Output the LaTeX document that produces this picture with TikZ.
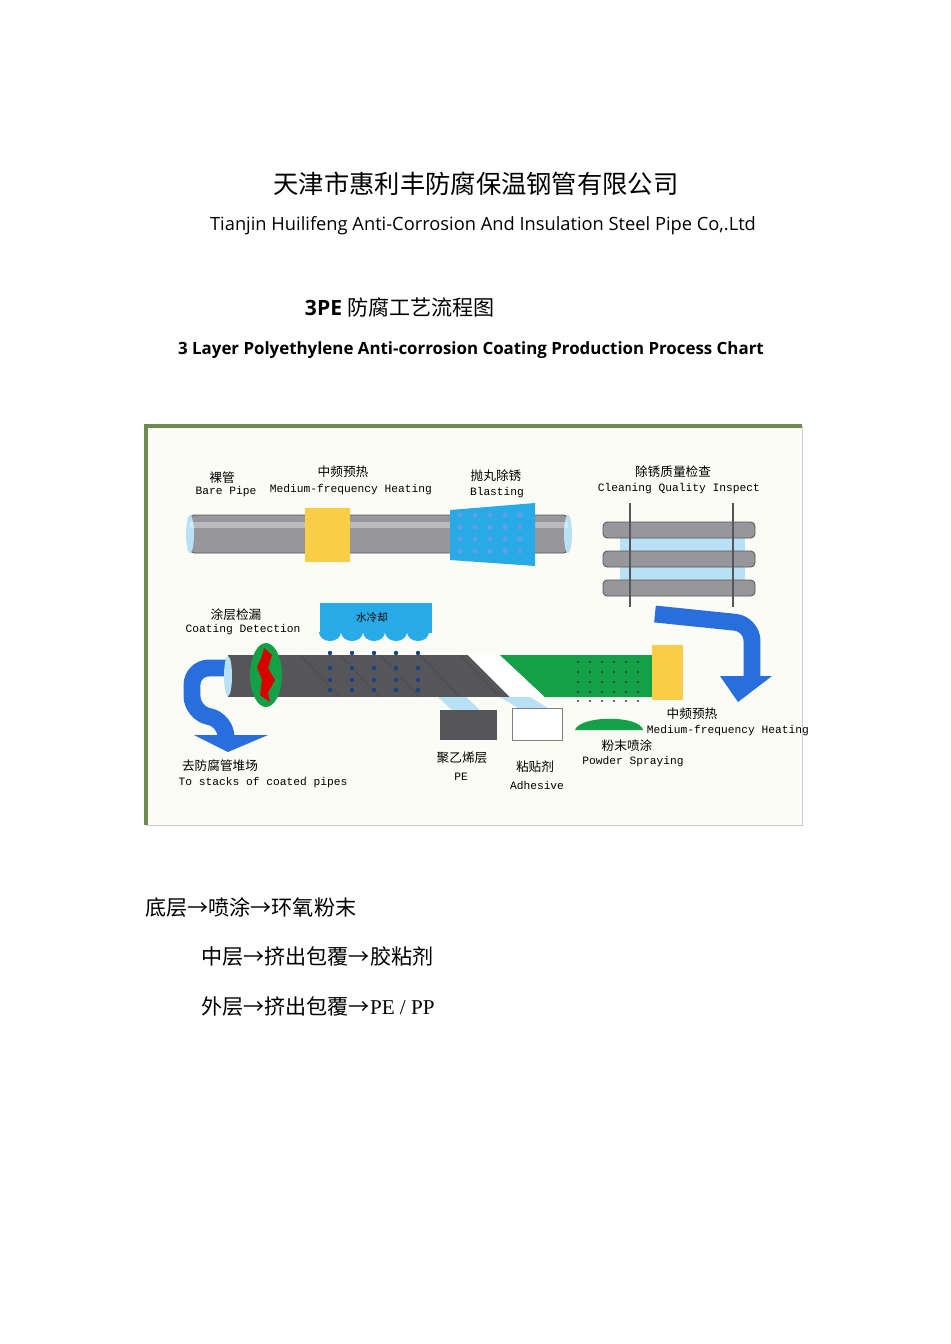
\documentclass[tikz,border=0pt]{standalone}
\usepackage{fontspec}
\setmainfont{Liberation Serif}
\newfontfamily\cjk{Noto Sans CJK SC}
\newfontfamily\sans{Open Sans}
\newfontfamily\mono{Liberation Mono}
\definecolor{frame}{RGB}{110,140,80}
\definecolor{cream}{RGB}{252,252,246}
\definecolor{pipegray}{RGB}{150,150,155}
\definecolor{darkpipe}{RGB}{85,85,90}
\definecolor{yel}{RGB}{250,205,70}
\definecolor{arrowblue}{RGB}{40,110,220}
\definecolor{sky}{RGB}{40,170,230}
\definecolor{pale}{RGB}{185,225,245}
\definecolor{grn}{RGB}{20,160,70}
\tikzset{
  cn/.style={font=\cjk\fontsize{9}{10}\selectfont, inner sep=0pt},
  en/.style={font=\mono\fontsize{8}{9}\selectfont, inner sep=0pt},
  pipe/.style={fill=pipegray, draw=darkpipe, line width=0.6pt, rounded corners=3pt},
  bline/.style={font=\cjk\fontsize{15}{16}\selectfont, anchor=west, inner sep=0pt}
}
\begin{document}
\begin{tikzpicture}[x=0.025cm, y=-0.025cm]
\useasboundingbox (0,0) rectangle (950,1344);
% titles
\node (title) at (476,184) [font=\cjk\fontsize{18}{19}\selectfont] {天津市惠利丰防腐保温钢管有限公司};
\node (subtitle) at (483,226) [font=\sans\fontsize{13}{14}\selectfont] {Tianjin Huilifeng Anti-Corrosion And Insulation Steel Pipe Co,.Ltd};
\node (chart) at (300,307) [anchor=west, font=\fontsize{15}{16}\selectfont] {{\sans\bfseries 3PE} {\cjk 防腐工艺流程图}};
\node (charten) at (471,350) [font=\sans\bfseries\fontsize{12}{13}\selectfont] {3 Layer Polyethylene Anti-corrosion Coating Production Process Chart};
% frame
\fill[cream] (145,425) rectangle (802,825);
\draw[frame, line width=2.2pt] (146,825) -- (146,426) -- (802,426);
\draw[gray!40] (802,426) -- (802,825) -- (146,825);
% top pipe
\fill[pipe] (190,515) rectangle (568,553);
\fill[pale] (190,534) ellipse (4 and 19);
\fill[pale] (568,534) ellipse (4 and 19);
\fill[white, opacity=0.35] (190,522) rectangle (568,528);
\fill[yel] (305,508) rectangle (350,562);
\fill[sky] (450,510) -- (535,503) -- (535,566) -- (450,560) -- cycle;
\foreach \i in {460,475,...,530}
  \foreach \j in {515,527,...,557}
    \fill[arrowblue!70] (\i,\j) circle (2.5);
\node[cn] (barecn) at (222,478) {裸管};
\node[en] (bareen) at (226,492) {Bare Pipe};
\node[cn] (heatcn) at (343,472) {中频预热};
\node[en] (heaten) at (351,490) {Medium-frequency Heating};
\node[cn] (blastcn) at (496,476) {抛丸除锈};
\node[en] (blasten) at (497,493) {Blasting};
\node[cn] (inspcn) at (673,472) {除锈质量检查};
\node[en] (inspen) at (679,489) {Cleaning Quality Inspect};
% inspection rack
\fill[pale] (620,537) rectangle (745,595);
\foreach \y in {522,551,580}
  \draw[pipe] (603,\y) rectangle (755,\y+16);
\draw[darkpipe, line width=1pt] (630,503) -- (630,607) (733,503) -- (733,607);
% blue turn arrows
\draw[arrowblue, line width=12pt, rounded corners=12pt] (655,614) -- (752,624) -- (752,676);
\fill[arrowblue] (720,676) -- (772,676) -- (738,702) -- cycle;
\draw[arrowblue, line width=12pt, rounded corners=12pt] (228,668) -- (192,668) -- (192,713) -- (226,720) -- (226,735);
\fill[arrowblue] (194,735) -- (268,735) -- (228,752) -- cycle;
% water cooling
\fill[sky] (320,603) rectangle (432,633);
\foreach \x in {330,352,374,396,418}
  \fill[sky] (\x-11,632) arc (180:0:11 and 9) -- cycle;
\node[cn, font=\cjk\fontsize{7.5}{8}\selectfont] (watercn) at (372,617) {水冷却};
% bottom pipe
\fill[darkpipe] (228,655) rectangle (655,697);
\foreach \x in {300,340,...,460}
  \draw[black!70] (\x,655) -- (\x+40,697);
\fill[white] (468,655) -- (500,655) -- (545,697) -- (510,697) -- cycle;
\fill[grn] (500,655) -- (655,655) -- (655,697) -- (545,697) -- cycle;
\fill[pale] (228,676) ellipse (4 and 20);
\foreach \x in {330,352,374,396,418}
  \foreach \y in {653,668,680,690}
    \fill[arrowblue!60!black] (\x,\y) circle (2.2);
\foreach \x in {578,590,...,640}
  \foreach \y in {662,672,682,692,701}
    \fill[black!80] (\x,\y) circle (1.2);
\fill[yel] (652,645) rectangle (683,700);
% coating detection ring
\fill[grn] (266,675) ellipse (16 and 32);
\fill[red!85!black] (264,648) -- (272,655) -- (268,668) -- (275,680) -- (268,693) -- (270,702) -- (260,695) -- (262,680) -- (257,667) -- (262,656) -- cycle;
% layer feeds
\fill[pale] (438,697) -- (466,697) -- (480,710) -- (452,710) -- cycle;
\fill[pale] (500,697) -- (530,697) -- (548,708) -- (518,708) -- cycle;
\fill[darkpipe] (440,710) rectangle (497,740);
\draw[gray, fill=white] (512,708) rectangle (562,740);
\fill[grn] (575,730) .. controls (580,715) and (640,715) .. (643,730) -- cycle;
% labels
\node[cn] (detcn) at (236,615) {涂层检漏};
\node[en] (deten) at (243,630) {Coating Detection};
\node[cn] (stackcn) at (220,766) {去防腐管堆场};
\node[en] (stacken) at (263,783) {To stacks of coated pipes};
\node[cn] (pecn) at (462,758) {聚乙烯层};
\node[en] (peen) at (461,777) {PE};
\node[cn] (adhcn) at (535,767) {粘贴剂};
\node[en] (adhen) at (537,785) {Adhesive};
\node[cn] (powcn) at (627,746) {粉末喷涂};
\node[en] (powen) at (633,762) {Powder Spraying};
\node[cn] (heat2cn) at (692,714) {中频预热};
\node[en] (heat2en) at (728,731) {Medium-frequency Heating};
% layer list
\node[bline] (bottom) at (145,907) {底层→喷涂→环氧粉末};
\node[bline] (middle) at (201,957) {中层→挤出包覆→胶粘剂};
\node[bline] (outer) at (201,1007) {外层→挤出包覆→{\rmfamily PE / PP}};
\end{tikzpicture}
\end{document}
